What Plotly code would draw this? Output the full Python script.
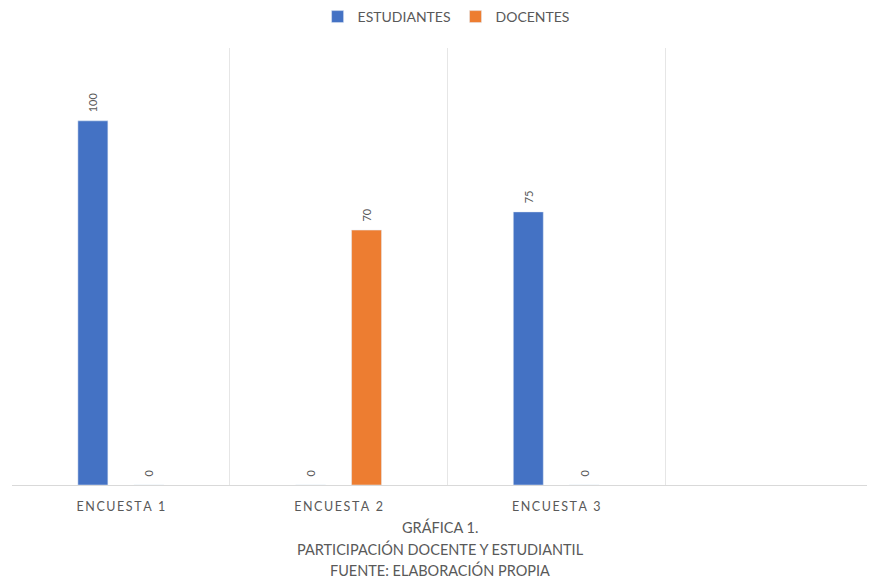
import plotly.graph_objects as go

categories = ["ENCUESTA 1", "ENCUESTA 2", "ENCUESTA 3"]
estudiantes = [100, 0, 75]
docentes = [0, 70, 0]
series_names = ["ESTUDIANTES", "DOCENTES"]
title_lines = ["GRÁFICA 1.", "PARTICIPACIÓN DOCENTE Y ESTUDIANTIL", "FUENTE: ELABORACIÓN PROPIA"]

FONT = "Lato"
GRAY = "#595959"
x_pos = list(range(len(categories)))
spaced = ["\u2009".join(list(c)) for c in categories]

fig = go.Figure()
for name, vals, col in [(series_names[0], estudiantes, "#4472C4"),
                        (series_names[1], docentes, "#ED7D31")]:
    fig.add_trace(go.Bar(
        name=name, x=x_pos, y=vals, marker_color=col,
        # leading en-space lifts the rotated label a little further off the bar
        text=["\u2002" + str(v) for v in vals], textposition="outside", textangle=-90,
        textfont=dict(family=FONT, size=11, color=GRAY),
        cliponaxis=False,
    ))

# page body has an 8px margin, so the figure is drawn offset by (8, 8)
fig.update_layout(
    width=875, height=579,
    paper_bgcolor="white", plot_bgcolor="white",
    margin=dict(l=4, r=8, t=40, b=102, autoexpand=False),
    barmode="group", bargap=0.486, bargroupgap=0.464,
    font=dict(family=FONT, color=GRAY),
    legend=dict(orientation="h", x=0.503, xanchor="center",
                yref="container", y=1 - 9 / 579, yanchor="middle",
                font=dict(family=FONT, size=14, color=GRAY), itemwidth=30,
                traceorder="normal"),
    showlegend=True,
)
fig.update_xaxes(
    range=[-0.5, 3.464], tickvals=x_pos, ticktext=spaced,
    tickfont=dict(family=FONT, size=12.5, color=GRAY),
    showgrid=False, zeroline=False, showline=True, linecolor="#D9D9D9", linewidth=1,
    ticks="", ticklabelstandoff=10,
    minor=dict(tickvals=[-0.5, 0.5, 1.5, 2.5], showgrid=True, gridcolor="#E6E6E6", gridwidth=1, ticks=""),
)
fig.update_yaxes(range=[0, 120], showgrid=False, zeroline=False, showticklabels=False, showline=False)

ys = [527, 549, 570]
for line, yy in zip(title_lines, ys):
    fig.add_annotation(text=line, xref="paper", yref="paper", x=0.496, y=(485 - yy) / 437,
                       xanchor="center", yanchor="middle", showarrow=False,
                       font=dict(family=FONT, size=14.5, color=GRAY))

fig.write_html("out.html")
